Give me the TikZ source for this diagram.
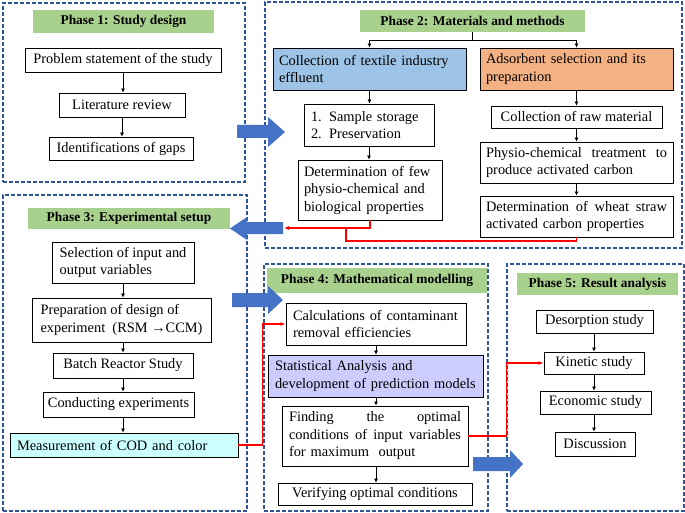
\documentclass[tikz,border=0pt]{standalone}
\usepackage{fontspec}
\setmainfont{Liberation Serif}
\usetikzlibrary{arrows.meta}
\definecolor{titlegreen}{HTML}{A9D18E}
\definecolor{dashblue}{HTML}{2F5597}
\definecolor{blockblue}{HTML}{4472C4}
\definecolor{effblue}{HTML}{9DC3E6}
\definecolor{adsorange}{HTML}{F4B183}
\definecolor{codcyan}{HTML}{CCFFFF}
\definecolor{statlav}{HTML}{CCCCFF}
\begin{document}
\begin{tikzpicture}[x=1pt,y=-1pt,
  every node/.style={font=\fontsize{14.4}{17.5}\selectfont},
  phase/.style={draw=dashblue, dash pattern=on 4pt off 2pt, line width=1.2pt, inner sep=0pt},
  ttl/.style={fill=titlegreen, inner sep=0pt, font=\fontsize{13.4}{17}\selectfont\bfseries},
  box/.style={draw, line width=0.8pt, fill=white, inner sep=0pt},
  lbox/.style={draw, line width=0.8pt, fill=white, inner xsep=6pt, inner ysep=0pt, align=left},
  arr/.style={-{Latex[length=4pt,width=4pt]}, line width=0.7pt},
  redline/.style={red, line width=1.2pt},
  redarr/.style={red, line width=1.2pt, -{Latex[length=5pt,width=4pt]}},
  blk/.style={fill=blockblue}
]
\useasboundingbox (0,0) rectangle (685,513);

% phase frames
\node[phase, minimum width=242pt, minimum height=179pt] (p1) at (124,92.5) {};
\node[phase, minimum width=417pt, minimum height=246pt] (p2) at (473.5,125) {};
\node[phase, minimum width=244pt, minimum height=316pt] (p3) at (125,353) {};
\node[phase, minimum width=224pt, minimum height=247pt] (p4) at (376,387.5) {};
\node[phase, minimum width=177pt, minimum height=247pt] (p5) at (595.5,387.5) {};

% Phase 1
\node[ttl, minimum width=181pt, minimum height=23pt] (t1) at (123.5,21.5) {Phase 1: Study design};
\node[box, minimum width=196pt, minimum height=24pt] (b1a) at (123,60) {Problem statement of the study};
\node[box, minimum width=126pt, minimum height=24pt] (b1b) at (122,105) {Literature review};
\node[box, minimum width=144pt, minimum height=23pt] (b1c) at (121,148.5) {Identifications of gaps};
\draw[arr] (b1a.south) -- (b1a.south |- b1b.north);
\draw[arr] (b1b.south) -- (b1b.south |- b1c.north);

% Phase 2
\node[ttl, minimum width=225pt, minimum height=22pt] (t2) at (472.5,21) {Phase 2: Materials and methods};
\node[lbox, fill=effblue, text width=181pt, minimum height=42pt] (b2a) at (369.5,69) {Collection of textile industry\\effluent};
\node[lbox, fill=adsorange, text width=181pt, minimum height=42pt] (b2b) at (576.5,69) {Adsorbent selection and its\\preparation};
\node[lbox, inner xsep=7pt, text width=116pt, minimum height=42pt] (b2c) at (369,125) {1. Sample storage\\2. Preservation};
\node[lbox, text width=132pt, minimum height=60pt] (b2d) at (370,190) {Determination of few\\physio-chemical and\\biological properties};
\node[box, minimum width=171pt, minimum height=22pt] (b2e) at (576.5,117) {Collection of raw material};
\node[lbox, text width=181pt, minimum height=41pt] (b2f) at (576.5,162.5) {Physio-chemical\hfill treatment\hfill to\\produce activated carbon};
\node[lbox, text width=181pt, minimum height=41pt] (b2g) at (576.5,216.5) {Determination\hfill of\hfill wheat\hfill straw\\activated carbon properties};
\draw[line width=0.7pt] (t2.south) -- ++(0,8) coordinate (br);
\draw[arr] (br) -| (b2a.north);
\draw[arr] (br) -| (b2b.north);
\draw[arr] (b2a.south) -- (b2a.south |- b2c.north);
\draw[arr] (b2c.south) -- (b2c.south |- b2d.north);
\draw[arr] (b2b.south) -- (b2b.south |- b2e.north);
\draw[arr] (b2e.south) -- (b2e.south |- b2f.north);
\draw[arr] (b2f.south) -- (b2f.south |- b2g.north);

% Phase 3
\node[ttl, minimum width=202pt, minimum height=21pt] (t3) at (129,218.5) {Phase 3: Experimental setup};
\node[lbox, inner xsep=3pt, minimum width=142pt, minimum height=41pt] (b3a) at (123,262.5) {Selection of input and\\output variables};
\node[lbox, inner xsep=3pt, minimum width=179pt, minimum height=44pt] (b3b) at (121.5,320) {Preparation of design of\\experiment\enspace(RSM →CCM)};
\node[box, minimum width=140pt, minimum height=25pt] (b3c) at (123,365.5) {Batch Reactor Study};
\node[box, minimum width=151pt, minimum height=25pt] (b3d) at (118.5,404.5) {Conducting experiments};
\node[lbox, fill=codcyan, inner xsep=7pt, text width=214pt, minimum height=24pt] (b3e) at (124,445) {Measurement of COD and color};
\draw[arr] (b3a.south) -- (b3a.south |- b3b.north);
\draw[arr] (b3a.south |- b3b.south) -- (b3a.south |- b3c.north);
\draw[arr] (b3a.south |- b3c.south) -- (b3a.south |- b3d.north);
\draw[arr] (b3a.south |- b3d.south) -- (b3a.south |- b3e.north);

% Phase 4
\node[ttl, minimum width=220pt, minimum height=25pt] (t4) at (377,280.5) {Phase 4: Mathematical modelling};
\node[lbox, inner xsep=7pt, text width=166pt, minimum height=42pt] (b4a) at (376,324) {Calculations of contaminant\\removal efficiencies};
\node[lbox, fill=statlav, inner xsep=7pt, text width=201pt, minimum height=42pt] (b4b) at (375.5,376) {Statistical Analysis and\\development of prediction models};
\node[lbox, inner xsep=7pt, text width=172pt, minimum height=60pt] (b4c) at (375,436) {Finding\hfill the\hfill optimal\\conditions\hfill of\hfill input\hfill variables\\for maximum\ \ output};
\node[box, minimum width=194pt, minimum height=22pt] (b4d) at (375,494) {Verifying optimal conditions};
\draw[arr] (b4a.south) -- (b4a.south |- b4b.north);
\draw[arr] (b4a.south |- b4b.south) -- (b4a.south |- b4c.north);
\draw[arr] (b4a.south |- b4c.south) -- (b4a.south |- b4d.north);

% Phase 5
\node[ttl, minimum width=161pt, minimum height=22pt] (t5) at (597.5,284) {Phase 5: Result analysis};
\node[box, minimum width=117pt, minimum height=23pt] (b5a) at (594.5,321.5) {Desorption study};
\node[box, minimum width=100pt, minimum height=22pt] (b5b) at (594,363) {Kinetic study};
\node[box, minimum width=111pt, minimum height=23pt] (b5c) at (595.5,402.5) {Economic study};
\node[box, minimum width=80pt, minimum height=24pt] (b5d) at (595,444) {Discussion};
\draw[arr] (b5b.north |- b5a.south) -- (b5b.north);
\draw[arr] (b5b.south) -- (b5b.south |- b5c.north);
\draw[arr] (b5b.south |- b5c.south) -- (b5b.south |- b5d.north);

% block arrows between phases
\fill[blk] (237,125) -- (268,125) -- (268,117) -- (285,132) -- (268,147) -- (268,138) -- (237,138) -- cycle;
\fill[blk] (283,222) -- (247,222) -- (247,217) -- (230,228.5) -- (247,240) -- (247,234) -- (283,234) -- cycle;
\fill[blk] (232,293) -- (268,293) -- (268,286) -- (283,300) -- (268,314) -- (268,307) -- (232,307) -- cycle;
\fill[blk] (473,457) -- (510,457) -- (510,450) -- (523,464) -- (510,478) -- (510,471) -- (473,471) -- cycle;

% red connectors
\coordinate (rend) at (284,228);
\coordinate (rj) at (346,228);
\coordinate (rk) at (346,241);
\draw[redarr] (b2d.south) |- (rend);
\draw[redline] (b2g.south) |- (rk) -- (rj);
\draw[redarr] (b3e.east) -- ++(24,0) |- (b4a.west);
\draw[redarr] (b4c.east) -- ++(38,0) |- (b5b.west);
\end{tikzpicture}
\end{document}
